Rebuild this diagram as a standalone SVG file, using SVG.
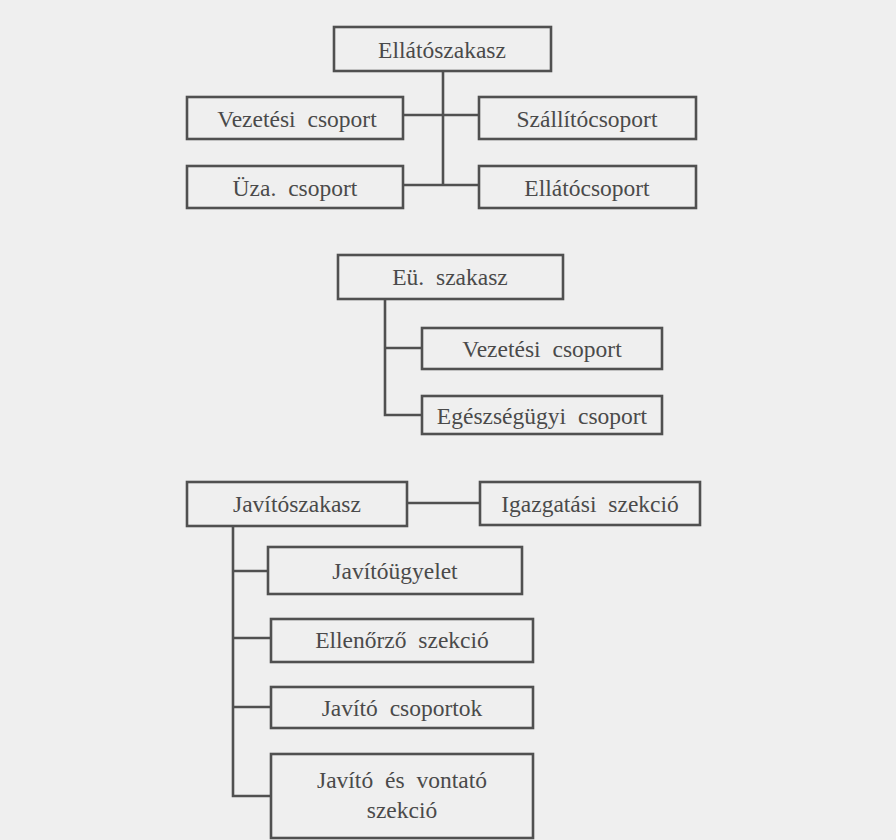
<svg xmlns="http://www.w3.org/2000/svg" width="896" height="840" viewBox="0 0 896 840">
<style>
.bg{fill:#efefef}
.box{fill:none;stroke:#505050;stroke-width:2.6}
.ln{fill:none;stroke:#505050;stroke-width:2.6}
.t{font-family:"Liberation Serif","DejaVu Serif",serif;font-size:23.5px;fill:#4a4a4a;text-anchor:middle;word-spacing:6px}
</style>
<rect class="bg" x="0" y="0" width="896" height="840"/>
<g id="connectors">
<polyline class="ln" points="443,71 443,185"/>
<line class="ln" x1="403" y1="115" x2="479" y2="115"/>
<line class="ln" x1="403" y1="185" x2="479" y2="185"/>
<polyline class="ln" points="385,299 385,415 422,415"/>
<line class="ln" x1="385" y1="348" x2="422" y2="348"/>
<line class="ln" x1="407" y1="503" x2="480" y2="503"/>
<polyline class="ln" points="233,526 233,796 271,796"/>
<line class="ln" x1="233" y1="571" x2="268" y2="571"/>
<line class="ln" x1="233" y1="638" x2="271" y2="638"/>
<line class="ln" x1="233" y1="707" x2="271" y2="707"/>
</g>
<g id="ellatoszakasz"><rect class="box" x="334" y="27" width="217" height="44"/><text class="t" x="442" y="58">Ellátószakasz</text></g>
<g id="vezetesi1"><rect class="box" x="187" y="97" width="216" height="42"/><text class="t" x="297" y="127">Vezetési csoport</text></g>
<g id="szallito"><rect class="box" x="479" y="97" width="217" height="42"/><text class="t" x="587" y="127">Szállítócsoport</text></g>
<g id="uza"><rect class="box" x="187" y="166" width="216" height="42"/><text class="t" x="295" y="196">Üza. csoport</text></g>
<g id="ellatocsoport"><rect class="box" x="479" y="166" width="217" height="42"/><text class="t" x="587" y="196">Ellátócsoport</text></g>
<g id="eu"><rect class="box" x="338" y="255" width="225" height="44"/><text class="t" x="450" y="285">Eü. szakasz</text></g>
<g id="vezetesi2"><rect class="box" x="422" y="328" width="240" height="41"/><text class="t" x="542" y="357">Vezetési csoport</text></g>
<g id="egeszseg"><rect class="box" x="422" y="396" width="240" height="38"/><text class="t" x="542" y="424">Egészségügyi csoport</text></g>
<g id="javitoszakasz"><rect class="box" x="187" y="482" width="220" height="44"/><text class="t" x="297" y="512">Javítószakasz</text></g>
<g id="igazgatasi"><rect class="box" x="480" y="482" width="220" height="43"/><text class="t" x="590" y="512">Igazgatási szekció</text></g>
<g id="javitougyelet"><rect class="box" x="268" y="547" width="254" height="47"/><text class="t" x="395" y="579">Javítóügyelet</text></g>
<g id="ellenorzo"><rect class="box" x="271" y="619" width="262" height="43"/><text class="t" x="402" y="648">Ellenőrző szekció</text></g>
<g id="javitocsoportok"><rect class="box" x="271" y="687" width="262" height="41"/><text class="t" x="402" y="716">Javító csoportok</text></g>
<g id="javitovontato"><rect class="box" x="271" y="754" width="262" height="84"/><text class="t" x="402" y="788">Javító és vontató</text><text class="t" x="402" y="818">szekció</text></g>
</svg>
